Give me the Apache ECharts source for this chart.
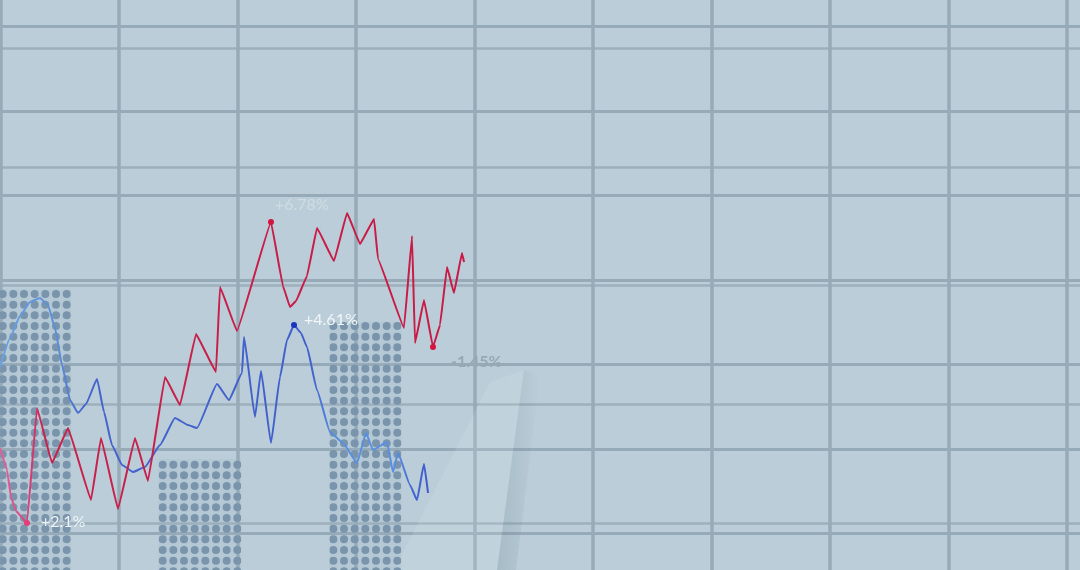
<!DOCTYPE html>
<html>
<head>
<meta charset="utf-8">
<script src="https://cdn.jsdelivr.net/npm/echarts@6/dist/echarts.min.js"></script>
<style>
  html, body { margin: 0; padding: 0; background: #bacdd8; }
  #chart { width: 1080px; height: 570px; }
</style>
</head>
<body>
<div id="chart"></div>
<script>
// ---- data (x: session units, y: index units) ----
const redX  = [0, 0.78, 1.22, 1.78, 3.0, 4.11, 5.78, 7.56, 10.11, 11.22, 13.11, 15.0, 16.44, 18.33, 20.0, 21.78, 24.0, 24.44, 26.33, 30.11, 31.44, 32.22, 32.89, 34.11, 35.22, 37.11, 38.56, 40.0, 41.56, 42.0, 44.89, 45.78, 46.11, 47.11, 48.11, 48.89, 49.67, 50.44, 51.33, 51.56];
const redY  = [12.2, 10.0, 7.3, 5.9, 4.7, 16.2, 10.7, 14.2, 7.0, 13.2, 6.1, 13.2, 8.9, 19.3, 16.5, 23.6, 19.8, 28.3, 23.9, 34.8, 28.4, 26.3, 26.9, 29.4, 34.2, 30.9, 35.7, 32.6, 35.1, 31.1, 24.2, 33.4, 22.7, 27.0, 22.3, 24.5, 30.3, 27.7, 31.7, 30.8];

const blueX = [0, 1.11, 2.22, 3.33, 4.44, 5.33, 6.11, 6.89, 7.78, 8.67, 9.56, 10.78, 11.56, 12.44, 13.56, 14.78, 16.11, 17.78, 19.44, 20.89, 21.89, 24.11, 25.44, 26.89, 27.11, 28.33, 29.0, 30.11, 31.11, 31.89, 32.67, 33.44, 34.11, 35.22, 36.67, 38.11, 39.67, 40.67, 41.44, 43.0, 43.67, 44.22, 45.56, 46.33, 47.11, 47.56];
const blueY = [20.3, 23.2, 25.4, 26.8, 27.2, 26.5, 24.2, 20.5, 17.0, 15.7, 16.6, 19.1, 15.8, 12.5, 10.5, 9.8, 10.3, 12.5, 15.2, 14.5, 14.2, 18.6, 17.0, 19.7, 23.3, 15.3, 19.9, 12.7, 19.3, 23.0, 24.5, 23.7, 22.3, 18.0, 13.8, 12.7, 10.7, 13.7, 12.0, 12.8, 9.8, 11.7, 8.5, 7.0, 10.6, 7.7];

const barStart = [0, 17.6, 36.6];
const barEnd   = [7.9, 26.8, 44.6];
const barTop   = [28.1, 11.1, 24.8];

const redMarkIdx  = [4, 19, 34];
const redMarkText = ['+2.1%', '+6.78%', '-1.45%'];
const blueMarkIdx  = [30];
const blueMarkText = ['+4.61%'];

// ---- styles ----
const BG = '#bacdd8';
const GRIDLINE = '#97aab7';
const redMarkStyle = [
  { color: '#e83a78', label: { color: '#eef3f6', distance: 11, offset: [0, -1] } },
  { color: '#d4143e', label: { color: '#d0dce4', distance: 1, offset: [0, -17] } },
  { color: '#d4143e', label: { color: '#98a8b3', distance: 15, offset: [0, 15], fontWeight: 'bold' } }
];
const blueMarkStyle = [
  { color: '#1a35c0', label: { color: '#f2f6f8', distance: 7, offset: [0, -5] } }
];

// dot pattern for bars (global dot lattice)
const STEP = 32 / 3;
const pat = document.createElement('canvas');
pat.width = 32; pat.height = 32;
(function () {
  const c = pat.getContext('2d');
  c.fillStyle = 'rgba(150,175,192,0.15)';
  c.fillRect(0, 0, 32, 32);
  c.fillStyle = '#7a94ab';
  for (let i = -1; i <= 3; i++) {
    for (let j = -1; j <= 3; j++) {
      c.beginPath();
      c.arc(2.67 + i * STEP, 6 + j * STEP, 4.0, 0, Math.PI * 2);
      c.fill();
    }
  }
})();

function buildLine(xs, ys, idx, texts, styles) {
  return xs.map((x, i) => {
    const k = idx.indexOf(i);
    if (k < 0) return { value: [x, ys[i]], symbolSize: 0 };
    const st = styles[k];
    return {
      value: [x, ys[i]],
      symbol: 'circle',
      symbolSize: 6,
      itemStyle: { color: st.color },
      label: Object.assign({
        show: true, position: 'right', formatter: texts[k],
        fontFamily: 'Lato', fontSize: 16
      }, st.label)
    };
  });
}

const hiddenAxis = { show: true, axisLine: { show: false }, axisTick: { show: false }, axisLabel: { show: false } };
const split = (w, c) => ({ show: true, lineStyle: { color: c || GRIDLINE, width: w } });

const chart = echarts.init(document.getElementById('chart'), null, { renderer: 'canvas' });
chart.setOption({
  animation: false,
  backgroundColor: BG,
  grid: [
    { left: 0, right: 0, top: 0, bottom: 0 },              // data
    { left: 0.5, right: 13, top: 0, bottom: 0 },           // vertical lattice
    { left: 0, right: 0, top: 26.5, bottom: 36.5 },        // primary horizontal rules
    { left: 0, right: 0, top: 48, bottom: 47 }             // secondary horizontal rules
  ],
  xAxis: [
    { gridIndex: 0, type: 'value', min: 0, max: 120, show: false },
    Object.assign({ gridIndex: 1, type: 'value', min: 0, max: 9, interval: 1, splitLine: split(3.5) }, hiddenAxis),
    Object.assign({ gridIndex: 2, type: 'value', min: 0, max: 1, splitLine: { show: false } }, hiddenAxis),
    Object.assign({ gridIndex: 3, type: 'value', min: 0, max: 1, splitLine: { show: false } }, hiddenAxis)
  ],
  yAxis: [
    { gridIndex: 0, type: 'value', min: 0, max: 57, show: false },
    Object.assign({ gridIndex: 1, type: 'value', min: 0, max: 1, splitLine: { show: false } }, hiddenAxis),
    Object.assign({ gridIndex: 2, type: 'value', min: 0, max: 6, interval: 1, splitLine: split(3) }, hiddenAxis),
    Object.assign({ gridIndex: 3, type: 'value', min: 0, max: 4, interval: 1, splitLine: split(2.5, '#9cafbb') }, hiddenAxis)
  ],
  graphic: [
    {
      type: 'polygon', z: 1, silent: true,
      shape: { points: [[490, 382], [524, 370], [497, 570], [394, 570]] },
      style: { fill: 'rgba(222,234,240,0.16)' }
    },
    {
      type: 'polygon', z: 1, silent: true,
      shape: { points: [[524, 370], [540, 376], [516, 570], [497, 570]] },
      style: { fill: { type: 'linear', x: 0, y: 0, x2: 1, y2: 0, colorStops: [
        { offset: 0, color: 'rgba(100,125,142,0.22)' }, { offset: 1, color: 'rgba(100,125,142,0)' }
      ] } }
    }
  ],
  series: [
    {
      type: 'custom', xAxisIndex: 0, yAxisIndex: 0, z: 2,
      data: barStart.map((s, i) => [s, barEnd[i], barTop[i]]),
      renderItem: function (params, api) {
        const p0 = api.coord([api.value(0), 0]);
        const p1 = api.coord([api.value(1), api.value(2)]);
        return {
          type: 'rect',
          shape: { x: p0[0], y: p1[1], width: p1[0] - p0[0], height: p0[1] - p1[1] },
          style: { fill: { image: pat, repeat: 'repeat' } }
        };
      }
    },
    {
      type: 'line', xAxisIndex: 0, yAxisIndex: 0, z: 4,
      data: buildLine(blueX, blueY, blueMarkIdx, blueMarkText, blueMarkStyle),
      smooth: 0.12, smoothMonotone: 'x',
      symbol: 'circle',
      lineStyle: {
        width: 2,
        color: { type: 'linear', x: 0, y: 0, x2: 1, y2: 0, colorStops: [
          { offset: 0, color: '#6aa2e4' }, { offset: 0.14, color: '#5a8ed8' },
          { offset: 0.2, color: '#4565cc' }, { offset: 0.72, color: '#4160cc' },
          { offset: 0.78, color: '#5890de' }, { offset: 0.92, color: '#5a8ee0' },
          { offset: 0.96, color: '#4466d0' }, { offset: 1, color: '#3f5acb' }
        ] }
      }
    },
    {
      type: 'line', xAxisIndex: 0, yAxisIndex: 0, z: 5,
      data: buildLine(redX, redY, redMarkIdx, redMarkText, redMarkStyle),
      smooth: 0.06, smoothMonotone: 'x',
      symbol: 'circle',
      lineStyle: {
        width: 2,
        color: { type: 'linear', x: 0, y: 0, x2: 1, y2: 0, colorStops: [
          { offset: 0, color: '#e0669a' }, { offset: 0.06, color: '#da4680' },
          { offset: 0.1, color: '#c8224c' }, { offset: 1, color: '#c81a45' }
        ] }
      }
    }
  ]
});
</script>
</body>
</html>
